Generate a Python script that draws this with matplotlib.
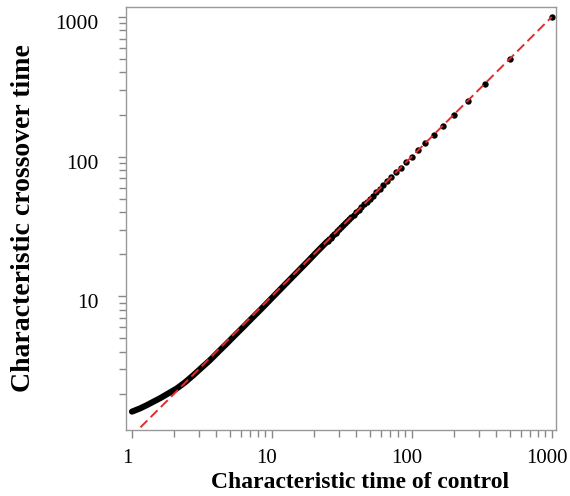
import matplotlib
matplotlib.use("Agg")
import matplotlib.pyplot as plt
import matplotlib.transforms as mtransforms
from matplotlib.ticker import LogLocator, NullFormatter, FixedLocator, FixedFormatter

plt.rcParams['font.family'] = ['Liberation Serif', 'DejaVu Serif']

# dense part of the curve (points merge into a band)
dense_x = [1.0, 1.14, 1.28, 1.43, 1.59, 1.8, 2.1, 2.4, 2.76, 3.15, 3.62, 4.2, 4.77,
           5.5, 6.27, 7.2, 8.27, 9.4, 10.6, 12.5, 15, 18, 21, 25]
dense_y = [1.49, 1.57, 1.66, 1.76, 1.86, 2.0, 2.19, 2.42, 2.73, 3.08, 3.49, 4.05, 4.59,
           5.3, 6.04, 6.95, 7.98, 9.1, 10.3, 12.2, 14.7, 17.7, 20.8, 24.8]

# separate points at larger times
pts_x = [1000, 500, 333.3, 250, 200, 166.7, 142.9, 125, 111.1, 100, 90.9, 83.3, 76.9,
         71.4, 66.7, 62.5, 58.8, 55.6, 52.6, 50, 47.6, 45.5, 43.5, 41.7, 40, 38.5, 37,
         35.7, 34.5, 33.3, 32.3, 31.3, 30.3, 29.4, 28.6, 27.8, 27, 26.3, 25.6, 25]
pts_y = [1000, 500, 333.3, 250, 200, 166.7, 142.9, 125, 111.1, 100, 90.9, 83.3, 76.9,
         71.4, 66.6, 62.4, 58.7, 55.5, 52.5, 49.9, 47.5, 45.4, 43.4, 41.6, 39.9, 38.4, 36.9,
         35.6, 34.4, 33.2, 32.2, 31.2, 30.2, 29.3, 28.5, 27.7, 26.9, 26.2, 25.5, 24.9]

ref_x = [1.15, 1000]
ref_y = [1.15, 1000]

xticks = [1, 10, 100, 1000]
yticks = [10, 100, 1000]

fig = plt.figure(figsize=(5.7, 4.96), dpi=100)
ax = fig.add_axes([0.221, 0.133, 0.754, 0.853])

ax.plot(dense_x, dense_y, color='black', lw=4.4, solid_capstyle='round', zorder=2)
ax.plot(pts_x, pts_y, 'o', color='black', ms=4.6, mew=0, zorder=2)
ax.plot(ref_x, ref_y, color='#dd2e2e', lw=1.4, dashes=(5, 2.4), zorder=3)

ax.set_xscale('log')
ax.set_yscale('log')
ax.set_xlim(0.906, 1068)
ax.set_ylim(1.10, 1179)

ax.xaxis.set_major_locator(FixedLocator(xticks))
ax.xaxis.set_major_formatter(FixedFormatter([str(t) for t in xticks]))
ax.yaxis.set_major_locator(FixedLocator(yticks))
ax.yaxis.set_major_formatter(FixedFormatter([str(t) for t in yticks]))
for a in (ax.xaxis, ax.yaxis):
    a.set_minor_locator(LogLocator(base=10, subs=range(2, 10)))
    a.set_minor_formatter(NullFormatter())

ax.tick_params(which='both', direction='out', color='#888888', width=1)
ax.tick_params(axis='x', pad=7.5, labelsize=15)
ax.tick_params(axis='y', pad=13.5, labelsize=15.5)
ax.tick_params(which='major', length=6)
ax.tick_params(which='minor', length=5)
for s in ax.spines.values():
    s.set_color('#999999')
    s.set_linewidth(1)

# small shifts of the tick labels as in the original
shift_x = mtransforms.ScaledTranslation(-5 / 100, 0, fig.dpi_scale_trans)
shift_y = mtransforms.ScaledTranslation(0, -5 / 100, fig.dpi_scale_trans)
for lab in ax.get_xticklabels():
    lab.set_transform(lab.get_transform() + shift_x)
for lab in ax.get_yticklabels():
    lab.set_transform(lab.get_transform() + shift_y)

ax.set_xlabel('Characteristic time of control', fontsize=17, fontweight='bold')
ax.xaxis.set_label_coords(0.544, -0.0993)
ax.set_ylabel('Characteristic crossover time', fontsize=20, fontweight='bold')
ax.yaxis.set_label_coords(-0.209, 0.501)

fig.savefig('out.png', dpi=100, facecolor='white')
